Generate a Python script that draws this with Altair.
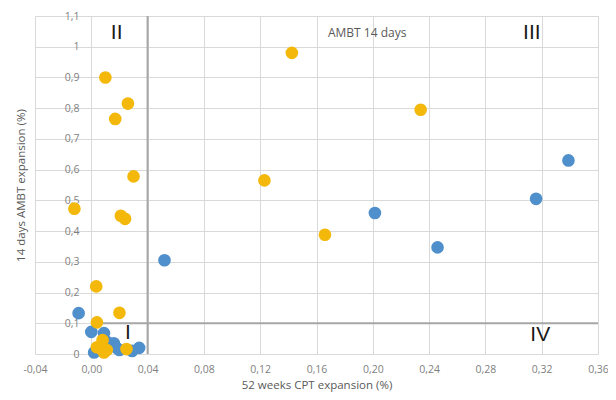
import altair as alt
import pandas as pd

# Series A (yellow)
yel_x = [0.010, 0.026, 0.017, 0.030, -0.012, 0.021, 0.024, 0.0035, 0.020, 0.004,
         0.008, 0.006, 0.011, 0.004, 0.025, 0.009, 0.1425, 0.234, 0.123, 0.166]
yel_y = [0.90, 0.815, 0.765, 0.578, 0.473, 0.45, 0.44, 0.22, 0.134, 0.103,
         0.045, 0.02, 0.013, 0.022, 0.016, 0.005, 0.98, 0.795, 0.565, 0.388]
# Series B (blue)
blu_x = [0.339, 0.316, 0.2015, 0.246, 0.052, -0.009, 0.0, 0.009, 0.011, 0.016,
         0.020, 0.029, 0.034, 0.002, 0.018]
blu_y = [0.63, 0.505, 0.459, 0.347, 0.305, 0.133, 0.072, 0.068, 0.04, 0.035,
         0.013, 0.01, 0.02, 0.005, 0.02]

x_ticks = [-0.04, 0.0, 0.04, 0.08, 0.12, 0.16, 0.20, 0.24, 0.28, 0.32, 0.36]
y_ticks = [0.0, 0.1, 0.2, 0.3, 0.4, 0.5, 0.6, 0.7, 0.8, 0.9, 1.0, 1.1]

quad_labels = ["II", "III", "IV", "I"]
quad_x = [0.018, 0.313, 0.319, 0.026]
quad_y = [1.045, 1.045, 0.062, 0.068]

note_text = ["AMBT 14 days"]
note_x = [0.196]
note_y = [1.045]

# reference lines
vline_x = [0.04]
vline_y = [0.0]
vline_y2 = [1.1]
hline_y = [0.1]
hline_x = [0.0]
hline_x2 = [0.36]

yel = pd.DataFrame({"x": yel_x, "y": yel_y})
blu = pd.DataFrame({"x": blu_x, "y": blu_y})
quad = pd.DataFrame({"t": quad_labels, "x": quad_x, "y": quad_y})
note = pd.DataFrame({"t": note_text, "x": note_x, "y": note_y})
vl = pd.DataFrame({"x": vline_x, "y": vline_y, "y2": vline_y2})
hl = pd.DataFrame({"y": hline_y, "x": hline_x, "x2": hline_x2})

FONT = "Open Sans"
W, H = 563, 338
xs = alt.Scale(domain=[-0.04, 0.36], nice=False, zero=False)
ys = alt.Scale(domain=[0, 1.1], nice=False, zero=False)
Y_OFF = -57  # y axis crosses at x = 0

x_axis = alt.Axis(values=x_ticks, title="52 weeks CPT expansion (%)",
                  labelExpr="replace(replace(format(datum.value, '.2f'), '.', ','), '\u2212', '-')",
                  grid=True, gridColor="#D9D9D9", domain=True, domainColor="#D9D9D9",
                  ticks=False, labelFlush=False, labelColor="#7F7F7F", labelFont=FONT,
                  labelFontSize=10.5, titleColor="#595959", titleFont=FONT, titleFontSize=11.5,
                  titleFontWeight="normal", labelPadding=10, titlePadding=5)
y_axis = alt.Axis(values=y_ticks, title="14 days AMBT expansion (%)",
                  labelExpr="replace(format(datum.value, '.1~f'), '.', ',')",
                  grid=True, gridColor="#D9D9D9", domain=False, ticks=False,
                  offset=Y_OFF, labelFlush=False,
                  labelColor="#7F7F7F", labelFont=FONT, labelFontSize=10.5,
                  titleColor="#595959", titleFont=FONT, titleFontSize=11.5,
                  titleFontWeight="normal", labelPadding=13, titleX=-66, titleY=H / 2)

X = alt.X("x:Q", scale=xs, axis=x_axis)
Y = alt.Y("y:Q", scale=ys, axis=y_axis)

vrule = alt.Chart(vl).mark_rule(color="#A6A6A6", strokeWidth=2).encode(
    x=X, y=Y, y2="y2:Q")
hrule = alt.Chart(hl).mark_rule(color="#A6A6A6", strokeWidth=2).encode(
    y=Y, x=X, x2="x2:Q")
base_blu = alt.Chart(blu).mark_circle(size=160, opacity=1, color="#4F8FCB").encode(
    x=X, y=Y)
base_yel = alt.Chart(yel).mark_circle(size=160, opacity=1, color="#F3B80A").encode(
    x=X, y=Y)
qtext = alt.Chart(quad).mark_text(font="Liberation Sans", fontSize=21, color="#1A1A1A",
                                  align="center", baseline="middle").encode(
    x=X, y=Y, text="t:N")
ntext = alt.Chart(note).mark_text(font=FONT, fontSize=12, color="#595959",
                                  align="center", baseline="middle").encode(
    x=X, y=Y, text="t:N")

chart = alt.layer(vrule, hrule, base_blu, base_yel, qtext, ntext).properties(
    width=W, height=H,
    padding={"left": 27, "top": 8, "right": 10, "bottom": 40},
    autosize=alt.AutoSizeParams(type="none"),
    background="white",
).configure_view(stroke=None)

chart.save("out.html", embed_options={"renderer": "svg", "actions": False})
